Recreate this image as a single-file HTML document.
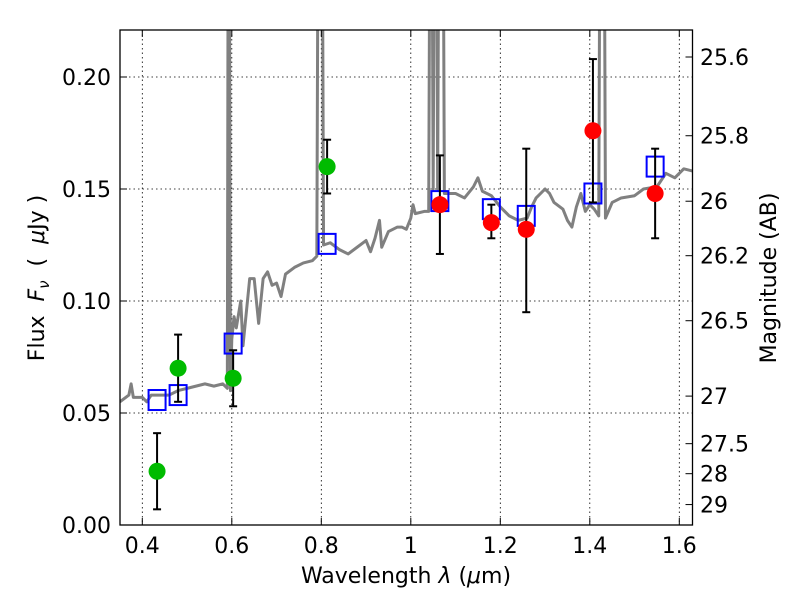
<!DOCTYPE html>
<html><head><meta charset="utf-8"><style>
body{margin:0;background:#fff;}
svg{font-family:"DejaVu Sans","Liberation Sans",sans-serif;}
</style></head><body>
<svg id="chart" width="800" height="600" xmlns="http://www.w3.org/2000/svg">
<defs><clipPath id="clip"><rect x="120" y="30" width="572.5" height="495"/></clipPath></defs>
<g id="grid"></g>
<g id="spec" clip-path="url(#clip)"></g>
<g id="marks" clip-path="url(#clip)"></g>
<rect x="120" y="30" width="572.5" height="495" fill="none" stroke="#000" stroke-width="1.3"/>
<g id="axes"></g>
<text x="406" y="583" font-size="22" text-anchor="middle">Wavelength  <tspan font-style="italic">λ</tspan> (<tspan font-style="italic">μ</tspan>m)</text>
<text transform="translate(44,278) rotate(-90)" font-size="22" text-anchor="middle" xml:space="preserve">Flux  <tspan font-style="italic">F</tspan><tspan font-style="italic" font-size="15" dy="5">ν</tspan><tspan dy="-5">  (  </tspan><tspan font-style="italic">μ</tspan>Jy )</text>
<text transform="translate(776,278) rotate(-90)" font-size="22" text-anchor="middle">Magnitude (AB)</text>
</svg>
<script>
const xTicks=[0.4,0.6,0.8,1,1.2,1.4,1.6];
const xTickLabels=["0.4","0.6","0.8","1","1.2","1.4","1.6"];
const yTicks=[0,0.05,0.10,0.15,0.20];
const yTickLabels=["0.00","0.05","0.10","0.15","0.20"];
const magTicks=[25.6,25.8,26,26.2,26.5,27,27.5,28,29];
const magTickLabels=["25.6","25.8","26","26.2","26.5","27","27.5","28","29"];
const specLam=[0.35,0.37,0.375,0.38,0.40,0.41,0.42,0.44,0.46,0.48,0.50,0.52,0.54,0.56,0.58,0.59,0.593,0.597,0.60,0.605,0.61,0.62,0.625,0.63,0.64,0.65,0.66,0.67,0.68,0.69,0.70,0.71,0.72,0.74,0.76,0.78,0.79,0.795,0.80,0.805,0.82,0.84,0.86,0.88,0.90,0.91,0.92,0.93,0.935,0.95,0.97,0.98,0.99,1.00,1.005,1.01,1.03,1.04,1.045,1.05,1.055,1.06,1.065,1.07,1.075,1.10,1.12,1.14,1.15,1.16,1.18,1.20,1.22,1.24,1.26,1.27,1.28,1.30,1.31,1.32,1.34,1.35,1.36,1.37,1.38,1.39,1.40,1.41,1.42,1.425,1.43,1.435,1.45,1.47,1.50,1.52,1.55,1.57,1.59,1.61,1.63];
const specFlux=[0.055,0.058,0.063,0.057,0.057,0.055,0.058,0.058,0.058,0.060,0.061,0.062,0.063,0.062,0.063,0.061,0.4,0.06,0.083,0.093,0.088,0.10,0.08,0.09,0.11,0.11,0.09,0.11,0.113,0.107,0.108,0.102,0.112,0.115,0.117,0.118,0.120,0.4,0.4,0.125,0.126,0.123,0.121,0.124,0.127,0.122,0.128,0.136,0.124,0.131,0.133,0.133,0.132,0.137,0.143,0.139,0.140,0.140,0.4,0.15,0.4,0.15,0.4,0.4,0.148,0.148,0.146,0.151,0.155,0.149,0.147,0.142,0.138,0.136,0.137,0.142,0.146,0.150,0.148,0.144,0.141,0.136,0.133,0.142,0.148,0.140,0.143,0.141,0.138,0.4,0.4,0.137,0.144,0.146,0.147,0.150,0.151,0.157,0.155,0.159,0.158];
const greenLam=[0.433,0.48,0.603,0.813];
const greenFlux=[0.024,0.070,0.0655,0.160];
const greenLo=[0.007,0.055,0.053,0.148];
const greenHi=[0.041,0.085,0.078,0.172];
const redLam=[1.065,1.18,1.258,1.407,1.546];
const redFlux=[0.143,0.135,0.132,0.176,0.148];
const redLo=[0.121,0.128,0.095,0.144,0.128];
const redHi=[0.165,0.143,0.168,0.208,0.168];
const modelLam=[0.433,0.48,0.603,0.813,1.065,1.18,1.258,1.407,1.546];
const modelFlux=[0.0558,0.058,0.081,0.1255,0.1446,0.141,0.138,0.148,0.160];

const X=v=>142.3+(v-0.4)*447.5;
const Y=v=>525-v*2240;
const NS="http://www.w3.org/2000/svg";
function mk(p,t,a){const e=document.createElementNS(NS,t);for(const k in a)e.setAttribute(k,a[k]);p.appendChild(e);return e;}
const grid=document.getElementById('grid'),axes=document.getElementById('axes'),spec=document.getElementById('spec'),marks=document.getElementById('marks');
xTicks.forEach((t,i)=>{
  const g=mk(grid,'line',{x1:X(t),x2:X(t),y1:30,y2:525,stroke:'#000','stroke-width':0.8,'stroke-dasharray':'1.5,3'});
  
  
  mk(axes,'line',{x1:X(t),x2:X(t),y1:525,y2:518,stroke:'#000'});
  mk(axes,'line',{x1:X(t),x2:X(t),y1:30,y2:37,stroke:'#000'});
  const l=mk(axes,'text',{x:X(t),y:553,'font-size':22,'text-anchor':'middle'});
  l.textContent=xTickLabels[i];
  
  
});
yTicks.forEach((t,i)=>{
  const g=mk(grid,'line',{x1:120,x2:692.5,y1:Y(t),y2:Y(t),stroke:'#000','stroke-width':0.8,'stroke-dasharray':'1.5,3'});
  
  
  mk(axes,'line',{x1:120,x2:127,y1:Y(t),y2:Y(t),stroke:'#000'});
  const l=mk(axes,'text',{x:111,y:Y(t)+8,'font-size':22,'text-anchor':'end'});
  l.textContent=yTickLabels[i];
  
  
});
magTicks.forEach((m,i)=>{
  const f=Math.pow(10,-(m-23.9)/2.5);const y=Y(f);
  mk(axes,'line',{x1:692.5,x2:685.5,y1:y,y2:y,stroke:'#000'});
  const l=mk(axes,'text',{x:700,y:y+8,'font-size':22});
  l.textContent=magTickLabels[i];
  
  
});
const sp=mk(spec,'polyline',{points:specLam.map((l,i)=>X(l)+','+Y(specFlux[i])).join(' '),fill:'none',stroke:'#808080','stroke-width':3,'stroke-linejoin':'round'});


function errbar(l,lo,hi){
  const x=X(l);
  mk(marks,'line',{x1:x,x2:x,y1:Y(lo),y2:Y(hi),stroke:'#000','stroke-width':2});
  mk(marks,'line',{x1:x-4,x2:x+4,y1:Y(lo),y2:Y(lo),stroke:'#000','stroke-width':2});
  mk(marks,'line',{x1:x-4,x2:x+4,y1:Y(hi),y2:Y(hi),stroke:'#000','stroke-width':2});
}
modelLam.forEach((l,i)=>{
  const r=mk(marks,'rect',{x:X(l)-8.5,y:Y(modelFlux[i])-10,width:17,height:20,fill:'none',stroke:'#0000ff','stroke-width':2});
  
  
});
greenLam.forEach((l,i)=>{
  errbar(l,greenLo[i],greenHi[i]);
  const c=mk(marks,'circle',{cx:X(l),cy:Y(greenFlux[i]),r:8.5,fill:'#00bb00'});
  
  
});
redLam.forEach((l,i)=>{
  errbar(l,redLo[i],redHi[i]);
  const c=mk(marks,'circle',{cx:X(l),cy:Y(redFlux[i]),r:8.5,fill:'#ff0000'});
  
  
});
</script>
</body></html>
